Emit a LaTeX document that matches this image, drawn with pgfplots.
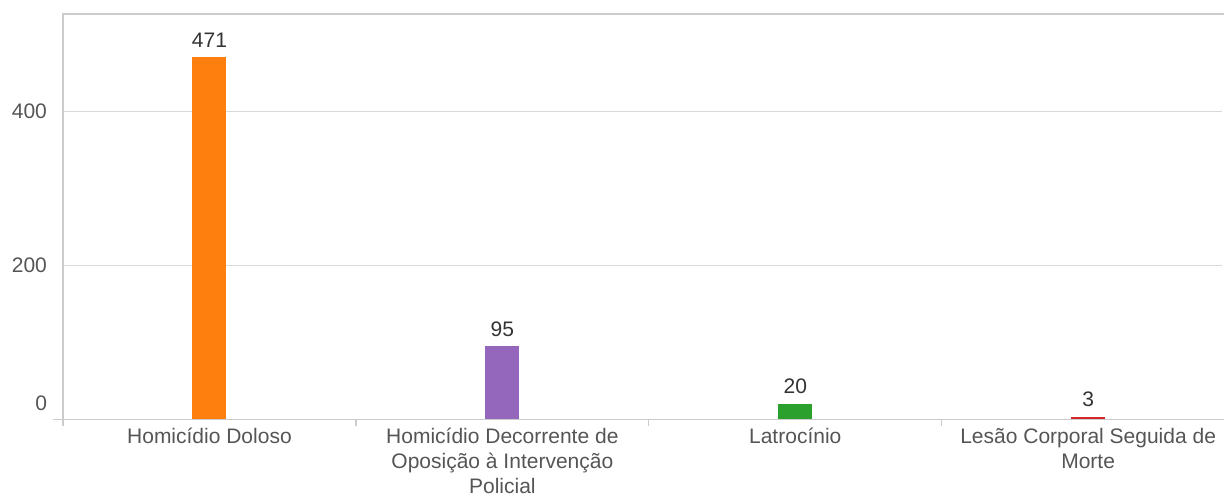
\documentclass[border=0pt]{standalone}
\usepackage{pgfplots}
\pgfplotsset{compat=1.18}
\usepackage{fontspec}
\setmainfont{Liberation Sans}
\definecolor{c1}{HTML}{FF7F0E}
\definecolor{c2}{HTML}{9467BD}
\definecolor{c3}{HTML}{2CA02C}
\definecolor{c4}{HTML}{D62728}
\definecolor{gridc}{HTML}{D9D9D9}
\definecolor{axc}{HTML}{CCCCCC}
\definecolor{lab}{HTML}{555555}
\definecolor{val}{HTML}{333333}
\begin{document}
\begin{tikzpicture}
\begin{axis}[
  at={(0,0)}, anchor=south west,
  scale only axis, width=579.5pt, height=202.75pt,
  xmin=-0.5, xmax=3.457, ymin=0, ymax=527,
  ybar, bar width=17pt, bar shift=0pt,
  axis line style={draw=none},
  xtick={0,1,2,3},
  xticklabels={Homicídio Doloso, Homicídio Decorrente de\\Oposição à Intervenção\\Policial, Latrocínio, Lesão Corporal Seguida de\\Morte},
  xticklabel style={align=center, font=\fontsize{10.5}{12.6}\selectfont, text=lab, yshift=3.5pt},
  major x tick style={draw=none},
  extra x ticks={-0.5,0.5,1.5,2.5},
  extra x tick labels={},
  extra x tick style={major x tick style={draw=axc, line width=0.6pt}, major tick length=3.5pt, tick align=outside},
  tick pos=left,
  ytick={200,400},
  ymajorgrids, grid style={draw=gridc, line width=0.6pt},
  major y tick style={draw=none},
  yticklabel style={font=\fontsize{10.5}{12.75}\selectfont, text=lab, xshift=-4.5pt},
  extra y ticks={20.8}, extra y tick labels={0},
  extra y tick style={grid=none},
  /pgf/number format/assume math mode=true,
  nodes near coords,
  every node near coord/.append style={font=\fontsize{10.5}{12.75}\selectfont, text=val, yshift=1.5pt},
  clip=false,
]
\addplot[fill=c1, draw=none] coordinates {(0,471)};
\addplot[fill=c2, draw=none] coordinates {(1,95)};
\addplot[fill=c3, draw=none] coordinates {(2,20)};
\addplot[fill=c4, draw=none] coordinates {(3,3)};
\draw[axc, line width=0.6pt] (rel axis cs:0,0) -- (rel axis cs:0,1) -- ([xshift=2pt]rel axis cs:1,1);
\draw[axc, line width=0.6pt] ([xshift=-5pt]rel axis cs:0,0) -- ([xshift=2pt]rel axis cs:1,0);
\end{axis}
\pgfresetboundingbox
\useasboundingbox (-31.5pt,-38.75pt) rectangle (580.5pt,209.75pt);
\end{tikzpicture}
\end{document}
